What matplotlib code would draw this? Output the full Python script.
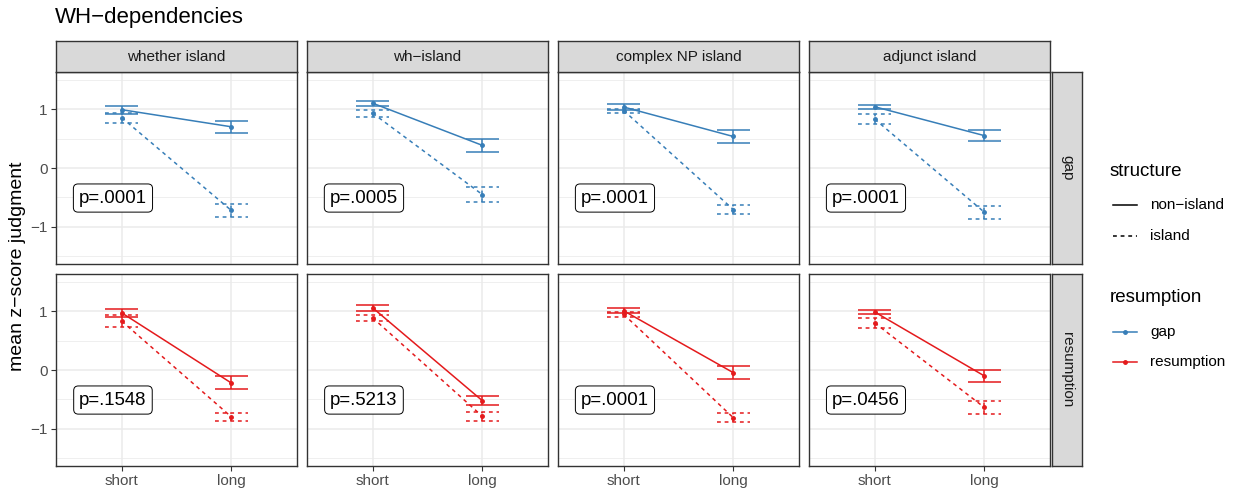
import numpy as np
import matplotlib
matplotlib.use("Agg")
import matplotlib.pyplot as plt

plt.rcParams['font.family'] = ['Liberation Sans', 'DejaVu Sans']

# Data
islands = ["whether island", "wh\u2212island", "complex NP island", "adjunct island"]
rows = ["gap", "resumption"]
lengths = ["short", "long"]

# means [panel][short, long] and half error bar widths
gap_ni_mean = [[0.99, 0.70], [1.10, 0.385], [1.035, 0.535], [1.04, 0.55]]
gap_ni_err = [[0.065, 0.10], [0.04, 0.115], [0.045, 0.105], [0.03, 0.09]]
gap_is_mean = [[0.855, -0.72], [0.93, -0.45], [0.975, -0.705], [0.83, -0.75]]
gap_is_err = [[0.085, 0.11], [0.06, 0.12], [0.035, 0.075], [0.08, 0.11]]
res_ni_mean = [[0.97, -0.22], [1.055, -0.52], [1.005, -0.045], [0.985, -0.10]]
res_ni_err = [[0.07, 0.11], [0.045, 0.08], [0.045, 0.115], [0.035, 0.10]]
res_is_mean = [[0.83, -0.795], [0.885, -0.785], [0.945, -0.81], [0.80, -0.635]]
res_is_err = [[0.10, 0.065], [0.055, 0.075], [0.045, 0.08], [0.08, 0.105]]

p_gap = ["p=.0001", "p=.0005", "p=.0001", "p=.0001"]
p_res = ["p=.1548", "p=.5213", "p=.0001", "p=.0456"]

BLUE = "#377EB8"
RED = "#E41A1C"
DASH = (0, (2.5, 2.5))
CAP = 0.15

W, H = 1237, 497
fig = plt.figure(figsize=(W / 100, H / 100), dpi=100)


def rect(left, top, w, h):
    return [left / W, 1 - (top + h) / H, w / W, h / H]


def strip(left, top, w, h, label, rot=0):
    sax = fig.add_axes(rect(left, top, w, h))
    sax.set_facecolor('#D9D9D9')
    sax.set_xticks([])
    sax.set_yticks([])
    for s in sax.spines.values():
        s.set_color('#333333')
        s.set_linewidth(1.0)
    sax.text(0.5, 0.5, label, ha='center', va='center', rotation=rot,
             fontsize=11, color='#1A1A1A', transform=sax.transAxes)


lefts = [56, 307, 558, 809]
tops = [72, 274]
pw, ph = 241, 192

row_data = [
    (gap_ni_mean, gap_ni_err, gap_is_mean, gap_is_err, p_gap, BLUE),
    (res_ni_mean, res_ni_err, res_is_mean, res_is_err, p_res, RED),
]

x = np.array([1, 2])
for r, (ni_m, ni_e, is_m, is_e, pvals, col) in enumerate(row_data):
    for c in range(4):
        ax = fig.add_axes(rect(lefts[c], tops[r], pw, ph))
        ax.set_xlim(0.4, 2.6)
        ax.set_ylim(-1.63, 1.63)
        ax.set_yticks([-1, 0, 1])
        ax.set_yticks([-1.5, -0.5, 0.5, 1.5], minor=True)
        ax.set_xticks(x)
        ax.grid(True, which='major', color='#EBEBEB', lw=1.1)
        ax.grid(True, which='minor', color='#EBEBEB', lw=0.55)
        ax.set_axisbelow(True)
        for s in ax.spines.values():
            s.set_color('#333333')
            s.set_linewidth(1.0)
        ax.tick_params(which='minor', length=0)
        ax.tick_params(which='major', length=3.5, width=0.8, color='#333333',
                       labelcolor='#4D4D4D', labelsize=11, pad=2.5)
        if r == 0:
            ax.set_xticklabels([])
            ax.tick_params(axis='x', length=0)
        else:
            ax.set_xticklabels(lengths)
        if c > 0:
            ax.set_yticklabels([])
            ax.tick_params(axis='y', length=0)

        for means, errs, ls in [(ni_m[c], ni_e[c], '-'), (is_m[c], is_e[c], DASH)]:
            means = np.array(means)
            errs = np.array(errs)
            ax.plot(x, means, color=col, lw=1.1, ls=ls, marker='o', ms=2.5)
            ax.vlines(x, means - errs, means + errs, color=col, lw=1.1, linestyles=[ls])
            ax.hlines(means - errs, x - CAP, x + CAP, color=col, lw=1.1, linestyles=[ls])
            ax.hlines(means + errs, x - CAP, x + CAP, color=col, lw=1.1, linestyles=[ls])

        ax.text(0.92, -0.51, pvals[c], fontsize=13.4, ha='center', va='center',
                color='black',
                bbox=dict(boxstyle='round,pad=0.3,rounding_size=0.25',
                          fc='white', ec='black', lw=0.7))

        if r == 0:
            strip(lefts[c], 41, pw, 31, islands[c])

    strip(1052, tops[r], 30, ph, rows[r], rot=-90)

# Title and y label
fig.text(55 / W, 1 - 18 / H, "WH\u2212dependencies", fontsize=16,
         ha='left', va='center')
fig.text(18 / W, 1 - 266 / H, "mean z\u2212score judgment", fontsize=14,
         rotation=90, ha='center', va='center')

# Legends
lax = fig.add_axes(rect(1090, 150, 147, 230))
lax.set_xlim(1090, 1237)
lax.set_ylim(380, 150)
lax.axis('off')
lax.text(1110, 172, "structure", fontsize=13.5, va='center', ha='left')
lax.plot([1113, 1137], [205, 205], color='black', lw=1.1)
lax.plot([1113, 1137], [236, 236], color='black', lw=1.1, ls=DASH)
lax.text(1150, 205, "non\u2212island", fontsize=11, va='center', ha='left')
lax.text(1150, 236, "island", fontsize=11, va='center', ha='left')
lax.text(1110, 298, "resumption", fontsize=13.5, va='center', ha='left')
lax.plot([1113, 1137], [332, 332], color=BLUE, lw=1.1)
lax.plot([1125], [332], color=BLUE, marker='o', ms=2.5)
lax.plot([1113, 1137], [362, 362], color=RED, lw=1.1)
lax.plot([1125], [362], color=RED, marker='o', ms=2.5)
lax.text(1150, 332, "gap", fontsize=11, va='center', ha='left')
lax.text(1150, 362, "resumption", fontsize=11, va='center', ha='left')

fig.savefig("out.png", dpi=100)
